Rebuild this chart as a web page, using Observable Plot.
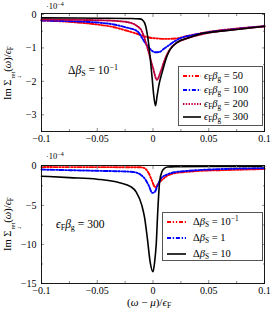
<!DOCTYPE html>
<html><head><meta charset="utf-8">
<script src="https://cdn.jsdelivr.net/npm/d3@7"></script>
<script src="https://cdn.jsdelivr.net/npm/@observablehq/plot@0.6"></script>
<style>
body{margin:0;background:#fff;}
#c{position:relative;width:271px;height:310px;font-family:"Liberation Serif","DejaVu Serif",serif;overflow:hidden;color:#000}
#c > svg{position:absolute;left:0;overflow:visible}
.lg{position:absolute;background:#fff;border:1px solid #555;box-sizing:border-box;font-size:10.5px;}
.row{position:absolute;left:0;height:14px;line-height:14px;white-space:nowrap}
.row svg{position:absolute;top:0}
.row span.t{position:absolute;top:0}
sub{font-size:70%;vertical-align:baseline;position:relative;top:0.3em}
sup{font-size:70%;vertical-align:baseline;position:relative;top:-0.45em}
i{font-style:italic}
.txt{position:absolute;white-space:nowrap;line-height:1.15}
.yt{position:absolute;white-space:nowrap;font-size:10.5px;transform:translate(-50%,-50%) rotate(-90deg)}
.ss{display:inline-flex;flex-direction:column;font-size:62%;line-height:0.95;vertical-align:-0.55em;margin-left:1px}
</style>
</head><body>
<div id="c"></div>
<script>
// ---------- data ----------
const xTickVals = [-0.1, -0.05, 0, 0.05, 0.1];
const xTickLabels = ["−0.1", "−0.05", "0", "0.05", "0.1"];
const xMinorVals = [-0.075, -0.025, 0.025, 0.075];
const yTopTickVals = [0, -1, -2, -3];
const yTopTickLabels = ["0", "−1", "−2", "−3"];
const yTopMinorVals = [-0.5, -1.5, -2.5, -3.5];
const yBotTickVals = [0, -5, -10, -15];
const yBotTickLabels = ["0", "−5", "−10", "−15"];
const yBotMinorVals = [-2.5, -7.5, -12.5];

// top panel: Δβ_S = 0.1, series by ε_F β_g
const xTop50 = [-0.1,-0.075,-0.05,-0.035,-0.025,-0.014,-0.005,0.005,0.012,0.02,0.03,0.04,0.05,0.075,0.1];
const yTop50 = [-0.18,-0.22,-0.3,-0.38,-0.47,-0.58,-0.68,-0.72,-0.73,-0.72,-0.65,-0.58,-0.52,-0.42,-0.35];
const xTop100 = [-0.1,-0.075,-0.05,-0.035,-0.025,-0.014,-0.008,-0.004,-0.002,0.002,0.006,0.0095,0.014,0.018,0.027,0.035,0.05,0.075,0.1];
const yTop100 = [-0.18,-0.2,-0.24,-0.3,-0.38,-0.5,-0.8,-0.98,-1.05,-1.13,-1.12,-1.03,-0.93,-0.83,-0.68,-0.62,-0.53,-0.43,-0.35];
const xTop200 = [-0.1,-0.05,-0.03,-0.02,-0.015,-0.01,-0.005,0,0.0035,0.007,0.01,0.015,0.02,0.03,0.04,0.05,0.075,0.1];
const yTop200 = [-0.15,-0.17,-0.2,-0.25,-0.33,-0.5,-1.0,-1.6,-1.95,-1.7,-1.4,-1.05,-0.88,-0.72,-0.62,-0.55,-0.44,-0.36];
const xTop300 = [-0.1,-0.05,-0.02,-0.012,-0.0095,-0.0067,-0.0037,-0.0007,0.0007,0.0022,0.0037,0.0052,0.0082,0.0127,0.0217,0.0336,0.0426,0.05,0.075,0.1];
const yTop300 = [-0.1,-0.11,-0.12,-0.13,-0.16,-0.33,-0.93,-1.93,-2.43,-2.73,-2.43,-2.13,-1.73,-1.23,-0.83,-0.68,-0.58,-0.54,-0.45,-0.35];

// bottom panel: ε_F β_g = 300, series by Δβ_S
const xBot01 = [-0.1,-0.05,-0.02,-0.012,-0.0095,-0.0067,-0.0037,-0.0007,0.0007,0.0022,0.0037,0.0052,0.0082,0.0127,0.0217,0.0336,0.0426,0.05,0.075,0.1];
const yBot01 = [-0.1,-0.11,-0.12,-0.13,-0.16,-0.33,-0.93,-1.93,-2.43,-2.73,-2.43,-2.13,-1.73,-1.23,-0.83,-0.68,-0.58,-0.54,-0.45,-0.35];
const xBot1 = [-0.1,-0.075,-0.05,-0.03,-0.02,-0.014,-0.01,-0.0067,-0.0037,-0.0007,0.0015,0.004,0.0075,0.0127,0.02,0.03,0.05,0.075,0.1];
const yBot1 = [-0.42,-0.5,-0.58,-0.64,-0.7,-0.85,-1.2,-1.7,-2.5,-3.4,-3.3,-2.5,-1.5,-1.05,-0.75,-0.6,-0.42,-0.3,-0.25];
const xBot10 = [-0.1,-0.075,-0.05,-0.03,-0.02,-0.015,-0.01,-0.0075,-0.005,-0.0025,0,0.0015,0.0029,0.0043,0.006,0.0082,0.0105,0.013,0.02,0.05,0.1];
const yBot10 = [-1.27,-1.45,-1.65,-2.1,-2.6,-3.3,-5.0,-6.6,-9.3,-12.3,-13.5,-12.2,-9.95,-5.7,-1.9,-0.64,-0.25,-0.1,-0.04,-0.02,-0.02];

const topLabels = ["50", "100", "200", "300"];
const botLabels = ["10<sup>−1</sup>", "1", "10"];

// ---------- styles ----------
const sRed = {stroke: "#ff0000", strokeWidth: 1.9, strokeDasharray: "4,1.8,1.3,1.8,1.3,1.8"};
const sBlue = {stroke: "#0000ff", strokeWidth: 1.9, strokeDasharray: "4,1.8,1.3,1.8"};
const sPurple = {stroke: "#bf0040", strokeWidth: 1.9, strokeDasharray: "1.4,1.4"};
const sBlack = {stroke: "#000", strokeWidth: 1.6};

const zip = (xs, ys) => xs.map((x, i) => ({x, y: ys[i]}));

function axes(yTicks, yLabels, yMinor) {
  const common = {stroke: "#8a8a8a", fill: "#000", label: null};
  return [
    Plot.axisX({...common, anchor: "bottom", ticks: xTickVals, tickFormat: (d, i) => xTickLabels[i], tickSize: -3, tickPadding: 6}),
    Plot.axisX({...common, anchor: "bottom", ticks: xMinorVals, tickFormat: () => "", tickSize: -2}),
    Plot.axisX({...common, anchor: "top", ticks: xTickVals, tickFormat: () => "", tickSize: -3}),
    Plot.axisX({...common, anchor: "top", ticks: xMinorVals, tickFormat: () => "", tickSize: -2}),
    Plot.axisY({...common, anchor: "left", ticks: yTicks, tickFormat: (d, i) => yLabels[i], tickSize: -3, tickPadding: 8}),
    Plot.axisY({...common, anchor: "left", ticks: yMinor, tickFormat: () => "", tickSize: -2}),
    Plot.axisY({...common, anchor: "right", ticks: yTicks, tickFormat: () => "", tickSize: -3}),
    Plot.axisY({...common, anchor: "right", ticks: yMinor, tickFormat: () => "", tickSize: -2})
  ];
}

const base = {width: 271, marginLeft: 41, marginRight: 7,
  style: {fontFamily: '"Liberation Serif","DejaVu Serif",serif', fontSize: "10px", background: "transparent", overflow: "visible"}};

const plotTop = Plot.plot({
  ...base, height: 150, marginTop: 13, marginBottom: 19,
  x: {domain: [-0.1, 0.1]},
  y: {domain: [-3.5, 0.03]},
  marks: [
    Plot.line(zip(xTop50, yTop50), {x: "x", y: "y", curve: "monotone-x", ...sRed}),
    Plot.line(zip(xTop100, yTop100), {x: "x", y: "y", curve: "monotone-x", ...sBlue}),
    Plot.line(zip(xTop200, yTop200), {x: "x", y: "y", curve: "monotone-x", ...sPurple}),
    Plot.line(zip(xTop300, yTop300), {x: "x", y: "y", curve: "monotone-x", ...sBlack}),
    ...axes(yTopTickVals, yTopTickLabels, yTopMinorVals),
    Plot.frame({stroke: "#000", strokeWidth: 0.9})
  ]
});

const plotBot = Plot.plot({
  ...base, height: 160, marginTop: 15, marginBottom: 27,
  x: {domain: [-0.1, 0.1]},
  y: {domain: [-15, 0.1]},
  marks: [
    Plot.line(zip(xBot01, yBot01), {x: "x", y: "y", curve: "monotone-x", ...sRed}),
    Plot.line(zip(xBot1, yBot1), {x: "x", y: "y", curve: "monotone-x", ...sBlue}),
    Plot.line(zip(xBot10, yBot10), {x: "x", y: "y", curve: "monotone-x", ...sBlack}),
    ...axes(yBotTickVals, yBotTickLabels, yBotMinorVals),
    Plot.frame({stroke: "#000", strokeWidth: 0.9})
  ]
});

const c = document.getElementById("c");
plotTop.style.top = "0px";
plotBot.style.top = "150px";
c.appendChild(plotTop);
c.appendChild(plotBot);

// ---------- overlays (text, legends) ----------
function swatch(s, w) {
  const dash = s.strokeDasharray ? `stroke-dasharray="${s.strokeDasharray}"` : "";
  return `<svg width="${w}" height="14" style="left:0"><line x1="0" x2="${w}" y1="7" y2="7" stroke="${s.stroke}" stroke-width="${s.strokeWidth}" ${dash}/></svg>`;
}
function legend(left, topPx, width, height, rows, swLeft, swW, txtLeft) {
  const d = document.createElement("div");
  d.className = "lg";
  Object.assign(d.style, {left: left + "px", top: topPx + "px", width: width + "px", height: height + "px"});
  d.innerHTML = rows.map(r => `<div class="row" style="top:${r.cy - 7}px;left:${swLeft}px">${swatch(r.s, swW)}<span class="t" style="left:${txtLeft - swLeft}px">${r.html}</span></div>`).join("");
  c.appendChild(d);
}
const eb = v => `<i>ϵ</i><sub>F</sub><i>β</i><sub>g</sub> = ${v}`;
const db = v => `Δ<i>β</i><sub>S</sub> = ${v}`;
const topStyles = [sRed, sBlue, sPurple, sBlack];
const botStyles = [sRed, sBlue, sBlack];
legend(178, 66, 85, 60, topLabels.map((l, i) => ({cy: [9, 23, 36.5, 50][i], s: topStyles[i], html: eb(l)})), 4, 18, 25);
legend(162, 212, 101, 49, botLabels.map((l, i) => ({cy: [8.5, 24.5, 41][i], s: botStyles[i], html: db(l)})), 4, 19, 30);

function addText(html, left, topPx, size, cls = "txt") {
  const d = document.createElement("div");
  d.className = cls;
  d.style.left = left + "px"; d.style.top = topPx + "px"; d.style.fontSize = size + "px";
  d.innerHTML = html;
  c.appendChild(d);
  return d;
}
addText(db("10<sup>−1</sup>"), 68, 64, 11.5);
addText(eb("300"), 56, 218, 11.5);
addText("·10<sup>−4</sup>", 46, 2, 8.5);
addText("·10<sup>−4</sup>", 46, 152, 8.5);
addText("(<i>ω</i> − <i>μ</i>)/<i>ϵ</i><sub>F</sub>", 127, 296, 11);
const yt = `Im Σ<span class="ss"><span>ret</span><span>↓</span></span>(<i>ω</i>)/<i>ϵ</i><sub>F</sub>`;
addText(yt, 12, 73, 10.5, "yt");
addText(yt, 12, 224, 10.5, "yt");
</script>
</body></html>
